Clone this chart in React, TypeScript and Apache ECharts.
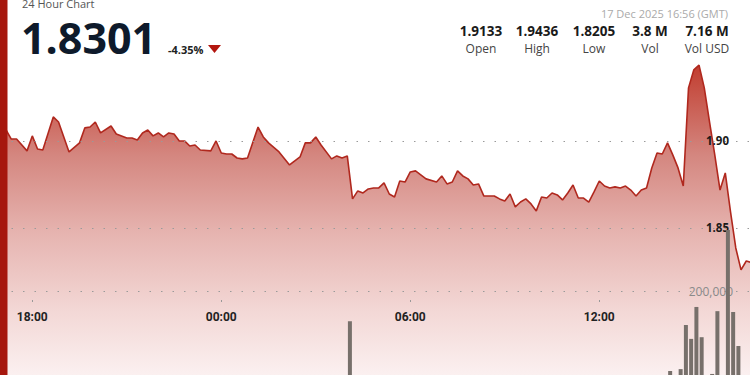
import React, { useEffect, useRef } from 'react';
import * as echarts from 'echarts';

// ---- Data ----
const priceTimes = [
  '17:00','17:10','17:20','17:30','17:50','18:00','18:10','18:20','18:40','18:50',
  '19:10','19:30','19:40','19:50','20:00','20:10','20:30','20:40','21:00','21:10',
  '21:20','21:30','21:40','21:50','22:00','22:10','22:20','22:30','22:40','22:50',
  '23:00','23:10','23:20','23:40','23:50','00:00','00:10','00:20','00:30','00:40',
  '00:50','01:10','01:20','01:30','01:50','02:10','02:20','02:30','02:40','02:50',
  '03:00','03:10','03:30','03:40','03:50','04:00','04:10','04:20','04:30','04:40',
  '04:50','05:00','05:10','05:20','05:30','05:40','05:50','06:00','06:10','06:20',
  '06:30','06:50','07:00','07:10','07:20','07:30','07:40','07:50','08:00','08:10',
  '08:20','08:30','08:40','08:50','09:00','09:10','09:20','09:30','09:40','09:50',
  '10:00','10:10','10:20','10:30','10:40','10:50','11:00','11:10','11:20','11:30',
  '11:40','11:50','12:00','12:10','12:20','12:30','12:40','12:50','13:00','13:10',
  '13:20','13:30','13:40','13:50','14:00','14:10','14:20','14:30','14:40','14:50',
  '15:00','15:10','15:20','15:30','15:40','15:50','16:00','16:10','16:20','16:30',
  '16:40','16:50'
];
const prices = [
  1.9121,1.9063,1.9011,1.9011,1.8943,1.9029,1.8954,1.8948,1.9138,1.9109,
  1.8937,1.8989,1.9075,1.9080,1.9109,1.9046,1.9086,1.9040,1.9017,1.9017,
  1.9006,1.9046,1.9063,1.9029,1.9046,1.9023,1.9046,1.9040,1.9000,1.9000,
  1.8971,1.8977,1.8948,1.8943,1.9000,1.8931,1.8925,1.8925,1.8902,1.8897,
  1.8902,1.9080,1.9023,1.8989,1.8937,1.8862,1.8885,1.8908,1.8989,1.8989,
  1.9023,1.8977,1.8897,1.8914,1.8902,1.8914,1.8667,1.8713,1.8701,1.8724,
  1.8730,1.8730,1.8759,1.8695,1.8678,1.8770,1.8764,1.8822,1.8828,1.8805,
  1.8782,1.8764,1.8799,1.8753,1.8764,1.8828,1.8799,1.8782,1.8747,1.8753,
  1.8684,1.8684,1.8684,1.8667,1.8655,1.8695,1.8621,1.8649,1.8667,1.8638,
  1.8598,1.8678,1.8672,1.8701,1.8690,1.8661,1.8701,1.8747,1.8672,1.8672,
  1.8649,1.8707,1.8770,1.8741,1.8730,1.8736,1.8730,1.8741,1.8718,1.8684,
  1.8718,1.8730,1.8845,1.8931,1.8925,1.8989,1.8920,1.8845,1.8741,1.9305,
  1.9408,1.9436,1.9305,1.9109,1.8920,1.8718,1.8816,1.8592,1.8385,1.8259,
  1.8310,1.8301
];
const volumeTimes = ['04:05','14:15','14:35','14:45','14:55','15:05','15:15','15:35','15:45','16:05','16:15','16:25'];
const volumes = [128000, 9500, 14000, 119000, 86000, 162000, 90000, 2500, 152000, 345000, 150000, 69000];

const timeTickLabels = ['18:00', '00:00', '06:00', '12:00'];
const priceTicks = [1.85, 1.9];
const volumeTicks = [200000];

const lastPrice = '1.8301';
const changePct = '-4.35%';
const dateText = '17 Dec 2025 16:56 (GMT)';
const statValues = ['1.9133', '1.9436', '1.8205', '3.8 M', '7.16 M'];
const statLabels = ['Open', 'High', 'Low', 'Vol', 'Vol USD'];

const toHours = (t: string) => {
  const [h, m] = t.split(':').map(Number);
  return (h < 17 ? h + 24 : h) + m / 60;
};

export default function App() {
  const ref = useRef<HTMLDivElement>(null);
  useEffect(() => {
    if (!ref.current) return;
    const chart = echarts.init(ref.current, undefined, { renderer: 'svg' });
    const tickHours = timeTickLabels.map(toHours);
    const priceData = priceTimes.map((t, i) => [toHours(t), prices[i]]);
    const volData = volumeTimes.map((t, i) => [toHours(t), volumes[i]]);
    const statCenters = [481, 537, 594, 650, 707];
    const txt = (text: string, x: number, y: number, opts: any) => ({
      type: 'text', x, y, z: 50,
      style: {
        text,
        fill: opts.fill,
        fontSize: opts.fontSize,
        fontWeight: opts.fontWeight || 'normal',
        fontFamily: opts.fontFamily || 'Open Sans',
        textAlign: opts.align || 'left', align: opts.align || 'left',
        textVerticalAlign: 'middle', verticalAlign: 'middle',
      },
    });
    const graphics: any[] = [
      { type: 'rect', shape: { x: 0, y: 0, width: 7.5, height: 375 }, style: { fill: '#a6170e' }, z: 60 },
      txt('24 Hour Chart', 22, 3.5, { fill: '#555', fontSize: 11 }),
      txt(lastPrice, 21, 37.5, { fill: '#0e1a2b', fontSize: 43, fontWeight: 'bold' }),
      txt(changePct, 168, 49, { fill: '#222', fontSize: 11, fontWeight: 'bold' }),
      { type: 'polygon', shape: { points: [[208, 45], [221, 45], [214.5, 53]] }, style: { fill: '#b3160f' }, z: 50 },
      txt(dateText, 728, 13, { fill: '#aaa', fontSize: 11, align: 'right' }),
    ];
    statValues.forEach((v, i) => {
      graphics.push(txt(v, statCenters[i], 30.5, { fill: '#1a1a1a', fontSize: 13.5, fontWeight: 'bold', align: 'center' }));
      graphics.push(txt(statLabels[i], statCenters[i], 48, { fill: '#444', fontSize: 12, align: 'center' }));
    });

    const gradient = new echarts.graphic.LinearGradient(0, 60, 0, 375, [
      { offset: 0, color: '#c0392b' },
      { offset: 0.3, color: '#d4867f' },
      { offset: 0.55, color: '#e6b4b0' },
      { offset: 0.8, color: '#f3d8d6' },
      { offset: 1, color: '#fbf0f0' },
    ], true);

    chart.setOption({
      animation: false,
      backgroundColor: '#ffffff',
      grid: { left: 0, right: 0, top: 0, bottom: 0, containLabel: false },
      xAxis: {
        type: 'value',
        min: 16.975,
        max: 40.785,
        position: 'bottom',
        offset: -75,
        z: 3,
        axisLine: { show: false, onZero: false },
        axisTick: { show: true, length: 2, lineStyle: { color: '#999' }, customValues: tickHours },
        axisLabel: {
          customValues: tickHours,
          formatter: (v: number) => timeTickLabels[tickHours.findIndex((h) => Math.abs(h - v) < 1e-6)] || '',
          margin: 11,
          color: '#222',
          fontWeight: 'bold',
          fontSize: 12,
          fontFamily: 'Roboto',
        },
        splitLine: { show: false },
      },
      yAxis: [
        {
          type: 'value',
          position: 'right',
          min: 1.7655,
          max: 1.981,
          z: 3,
          axisLine: { show: false },
          axisTick: { show: false, customValues: priceTicks },
          axisLabel: {
            inside: true,
            customValues: priceTicks,
            formatter: (v: number) => v.toFixed(2),
            margin: 21,
            color: '#1a1a1a',
            fontWeight: 'bold',
            fontSize: 11.5,
            fontFamily: 'Open Sans',
          },
          splitLine: { show: true, lineStyle: { type: [1.5, 10], color: '#9a9a9a', width: 1 } },
        },
        {
          type: 'value',
          position: 'right',
          min: 0,
          max: 892857,
          z: 3,
          axisLine: { show: false },
          axisTick: { show: false, customValues: volumeTicks },
          axisLabel: {
            inside: true,
            customValues: volumeTicks,
            formatter: (v: number) => v.toLocaleString('en-US'),
            margin: 17,
            color: '#8a8a8a',
            fontSize: 12,
            fontFamily: 'Open Sans',
          },
          splitLine: { show: true, lineStyle: { type: [1.5, 10], color: '#9a9a9a', width: 1 } },
        },
      ],
      series: [
        {
          type: 'line',
          data: priceData,
          symbol: 'none',
          z: 2,
          lineStyle: { color: '#b0281e', width: 1.6 },
          areaStyle: { origin: 'start', color: gradient, opacity: 1 },
        },
        {
          type: 'bar',
          yAxisIndex: 1,
          data: volData,
          barWidth: 4,
          z: 4,
          itemStyle: { color: '#77706b' },
        },
      ],
      graphic: graphics,
    });
    return () => chart.dispose();
  }, []);
  return <div ref={ref} style={{ position: 'fixed', left: 0, top: 0, width: 750, height: 375 }} />;
}
